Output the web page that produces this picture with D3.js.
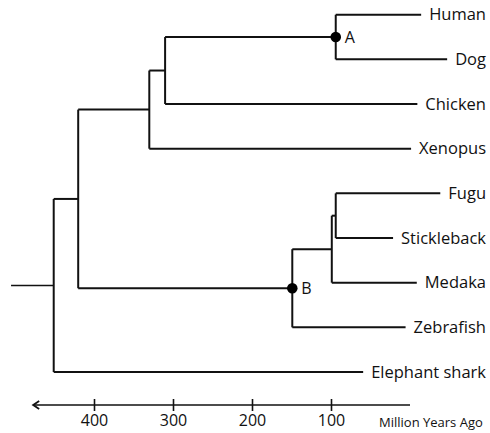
<!DOCTYPE html>
<html>
<head>
<meta charset="utf-8">
<script src="https://cdn.jsdelivr.net/npm/d3@7"></script>
<style>
  html, body { margin: 0; padding: 0; background: #fff; }
  svg { display: block; font-family: "Open Sans", "Noto Sans", sans-serif; }
</style>
</head>
<body>
<svg id="chart" width="490" height="433"></svg>
<script>
// ---- data ----
const leafNames   = ["Human", "Dog", "Chicken", "Xenopus", "Fugu", "Stickleback", "Medaka", "Zebrafish", "Elephant shark"];
const leafParents = ["A", "A", "amniota", "tetrapoda", "fs", "fs", "percomorpha", "B", "root"];
const nodeIds     = ["root", "osteichthyes", "tetrapoda", "amniota", "A", "B", "percomorpha", "fs"];
const nodeParents = [null, "root", "osteichthyes", "tetrapoda", "amniota", "osteichthyes", "B", "percomorpha"];
const nodeAges    = [451, 420, 330, 310, 94, 149, 99, 94];   // million years ago
const markedNodes = ["A", "B"];
const tickValues  = [400, 300, 200, 100];
const axisTitle   = "Million Years Ago";
const stubAge     = 505;   // start of the root stem
const axisMaxAge  = 477;   // arrow end of the time axis

// ---- layout ----
const svg = d3.select("#chart");
const x = d3.scaleLinear().domain([500, 0]).range([15, 410]);
const y = d3.scalePoint().domain(leafNames).range([14.7, 372]);
const labelRight = 486, gap = 8;

const rows = nodeIds.map((id, i) => ({id, parent: nodeParents[i], age: nodeAges[i], leaf: false}))
  .concat(leafNames.map((n, i) => ({id: n, parent: leafParents[i], age: 0, leaf: true})));
const root = d3.stratify().id(d => d.id).parentId(d => d.parent)(rows);

// label positions first (to know where leaf branches end)
const gLabels = svg.append("g");
const labelStart = {};
leafNames.forEach(n => {
  const t = gLabels.append("text")
    .attr("x", labelRight).attr("y", y(n))
    .attr("dy", "0.35em")
    .attr("text-anchor", "end")
    .attr("font-size", 16.5)
    .attr("fill", "#111")
    .text(n);
  labelStart[n] = labelRight - t.node().getComputedTextLength();
});

// y of nodes: leaves from scale, internal = mean of children
root.eachAfter(d => {
  if (d.data.leaf) { d.yy = y(d.id); d.xx = labelStart[d.id] - gap; }
  else { d.yy = d3.mean(d.children, c => c.yy); d.xx = x(d.data.age); }
});

const gTree = svg.append("g").attr("fill", "none").attr("stroke", "#111").attr("stroke-width", 2);
// root stem
gTree.append("line")
  .attr("x1", x(stubAge)).attr("x2", root.xx)
  .attr("y1", root.yy).attr("y2", root.yy)
  .attr("stroke-width", 1.5);
root.each(d => {
  if (!d.children) return;
  const ys = d.children.map(c => c.yy);
  gTree.append("line")
    .attr("x1", d.xx).attr("x2", d.xx)
    .attr("y1", d3.min(ys)).attr("y2", d3.max(ys));
  d.children.forEach(c => {
    gTree.append("line")
      .attr("x1", d.xx).attr("x2", c.xx)
      .attr("y1", c.yy).attr("y2", c.yy);
  });
});

// marked nodes
const gMarks = svg.append("g");
root.each(d => {
  if (!markedNodes.includes(d.id)) return;
  gMarks.append("circle").attr("cx", d.xx).attr("cy", d.yy).attr("r", 5.3).attr("fill", "#000");
  gMarks.append("text")
    .attr("x", d.xx + 9).attr("y", d.yy)
    .attr("dy", "0.35em")
    .attr("font-size", 16)
    .attr("fill", "#111")
    .text(d.id);
});

// ---- time axis ----
const axisY = 405;
const gAxis = svg.append("g").attr("transform", `translate(0,${axisY})`);
gAxis.append("line")
  .attr("x1", x(axisMaxAge)).attr("x2", x(0))
  .attr("y1", 0).attr("y2", 0)
  .attr("stroke", "#111").attr("stroke-width", 1.6);
gAxis.append("path")
  .attr("d", `M${x(axisMaxAge) + 6},-4 L${x(axisMaxAge)},0 L${x(axisMaxAge) + 6},4`)
  .attr("fill", "none").attr("stroke", "#111").attr("stroke-width", 1.8);

const axis = d3.axisBottom(x).tickValues(tickValues).tickSize(6).tickPadding(0).tickFormat(d3.format("d"));
const ax = gAxis.append("g").call(axis);
ax.select(".domain").remove();
ax.selectAll(".tick line").attr("y1", -6).attr("y2", 6).attr("stroke", "#111").attr("stroke-width", 1.6);
ax.selectAll(".tick text")
  .attr("y", 10).attr("dy", "0.71em")
  .attr("font-family", "'Open Sans', 'Noto Sans', sans-serif")
  .attr("font-size", 16).attr("fill", "#111");

svg.append("text")
  .attr("x", 379).attr("y", 427)
  .attr("font-size", 13)
  .attr("fill", "#111")
  .text(axisTitle);
</script>
</body>
</html>
